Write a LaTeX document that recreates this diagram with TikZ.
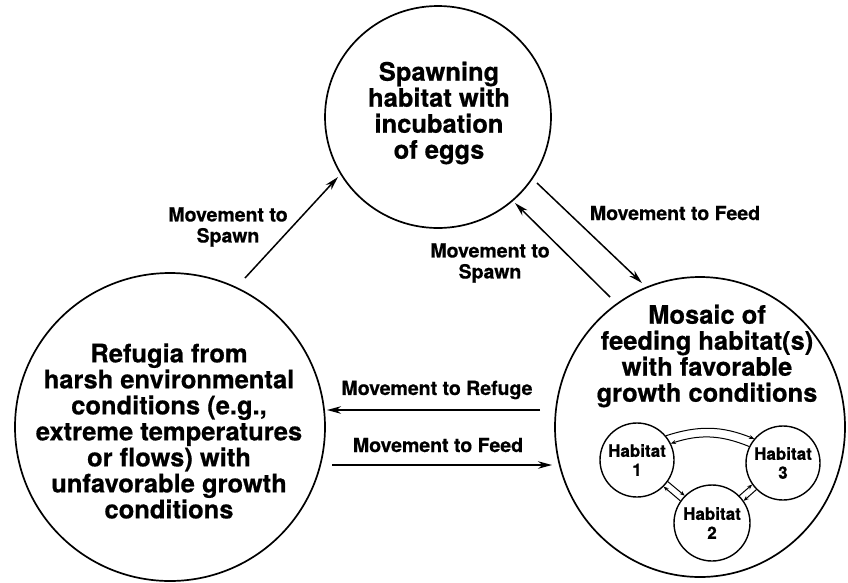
\documentclass[tikz,border=0pt]{standalone}
\usepackage{fontspec}
\setmainfont{TeX Gyre Heros}[BoldFeatures={FakeBold=0.6}]
\usetikzlibrary{arrows.meta,shapes.geometric}
\begin{document}
\begin{tikzpicture}[x=1pt,y=-1pt,
  habbig/.style={ellipse,draw,line width=1.7pt,inner sep=0pt},
  bigtext/.style={align=center,font=\fontsize{25.5}{26}\selectfont\bfseries,inner sep=0pt},
  labtext/.style={align=center,font=\fontsize{19.5}{21}\selectfont\bfseries,inner sep=0pt},
  habsmall/.style={circle,draw,line width=1.4pt,minimum size=74pt,inner sep=0pt,align=center,font=\fontsize{17}{19}\selectfont\bfseries},
  arr/.style={line width=1.5pt,-{Stealth[length=14pt,width=7.5pt]}},
  harr/.style={line width=1pt,-{Stealth[length=5pt,width=4pt]}}]
\useasboundingbox (0,0) rectangle (848,582);
% main habitats
\node[habbig, minimum width=226pt, minimum height=222pt] (S) at (438,117) {};
\node[habbig, minimum width=310pt, minimum height=308pt] (F) at (170,427) {};
\node[habbig, minimum width=290pt, minimum height=300pt] (M) at (700,427) {};
\node[bigtext] (St) at (439,113) {Spawning\\habitat with\\incubation\\of eggs};
\node[bigtext] (Ft) at (169,431) {Refugia from\\harsh environmental\\conditions (e.g.,\\extreme temperatures\\or flows) with\\unfavorable growth\\conditions};
\node[bigtext] (Mt) at (707,356) {Mosaic of\\feeding habitat(s)\\with favorable\\growth conditions};
% connector ends
\coordinate (a1) at (245,278); \coordinate (a2) at (338,177);
\coordinate (b1) at (537,183); \coordinate (b2) at (642,283);
\coordinate (c1) at (610,297); \coordinate (c2) at (515,203);
\coordinate (d1) at (540,410); \coordinate (d2) at (327,410);
\coordinate (e1) at (332,465); \coordinate (e2) at (552,465);
\draw[arr] (a1) -- (a2);
\draw[arr] (b1) -- (b2);
\draw[arr] (c1) -- (c2);
\draw[arr] (d1) -- (d2);
\draw[arr] (e1) -- (e2);
% labels
\node[labtext] (l1) at (228,227) {Movement to\\Spawn};
\node[labtext] (l2) at (675,213) {Movement to Feed};
\node[labtext] (l3) at (490,263) {Movement to\\Spawn};
\node[labtext] (l4) at (437,390) {Movement to Refuge};
\node[labtext] (l5) at (438,445) {Movement to Feed};
% small habitats
\node[habsmall] (H1) at (637,460) {Habitat\\1};
\node[habsmall] (H3) at (783,463) {Habitat\\3};
\node[habsmall, minimum size=76pt] (H2) at (712,523) {Habitat\\2};
\draw[harr] (H1.40) to[bend left=20] (H3.140);
\draw[harr] (H3.154) to[bend right=20] (H1.26);
\draw[harr] (H1.-35) -- (H2.135);
\draw[harr] (H2.145) -- (H1.-45);
\draw[harr] (H2.45) -- (H3.215);
\draw[harr] (H3.225) -- (H2.35);
\end{tikzpicture}
\end{document}
